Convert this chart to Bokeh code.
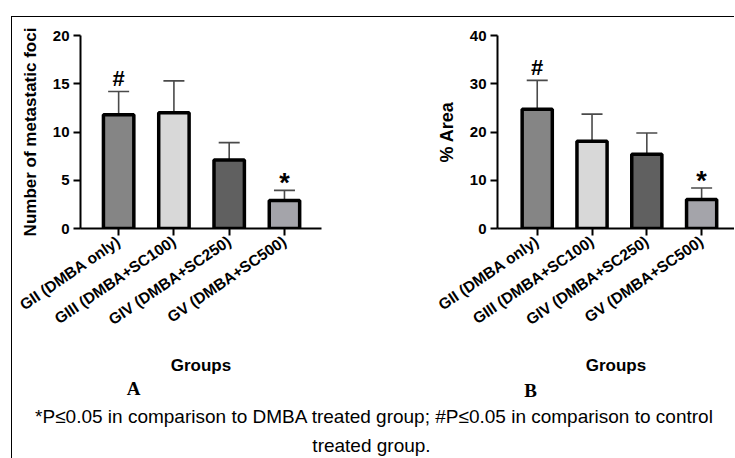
from bokeh.plotting import figure
from bokeh.models import Range1d, FixedTicker, Whisker, ColumnDataSource, Label, TeeHead
from bokeh.layouts import row, column
from bokeh.embed import file_html
from bokeh.resources import INLINE
from bokeh.core.properties import value

groups = ["GII (DMBA only)", "GIII (DMBA+SC100)", "GIV (DMBA+SC250)", "GV (DMBA+SC500)"]
foci_mean = [11.8, 12.0, 7.1, 2.9]
foci_sd = [2.4, 3.3, 1.8, 1.05]
area_mean = [24.7, 18.1, 15.4, 6.0]
area_sd = [6.0, 5.6, 4.4, 2.4]
sig_marks = ["#", "", "", "*"]
bar_colors = ["#858585", "#d8d8d8", "#606060", "#a4a4aa"]
foci_ticks = [0, 5, 10, 15, 20]
area_ticks = [0, 10, 20, 30, 40]
panel_letters = ["A", "B"]
footnote = ["*P\u22640.05 in comparison to DMBA treated group; #P\u22640.05 in comparison to control",
            "treated group."]

FONT = "Liberation Sans"


def panel(means, sds, ticks, ylabel, ylabel_size, w, h, mbl, mbr, mbt, mbb, xr):
    xs = list(range(len(groups)))
    src = ColumnDataSource(dict(x=xs, top=means, lower=means,
                                upper=[m + s for m, s in zip(means, sds)],
                                color=bar_colors, mark=sig_marks))
    p = figure(width=w, height=h, output_backend="svg", toolbar_location=None,
               x_range=Range1d(*xr), y_range=Range1d(ticks[0], ticks[-1]),
               min_border_left=mbl, min_border_right=mbr, min_border_top=mbt, min_border_bottom=mbb)
    p.outline_line_color = None
    p.grid.visible = False
    p.background_fill_color = "white"
    p.border_fill_color = "white"

    wh = Whisker(base="x", lower="lower", upper="upper", source=src, line_color="#4a4a4a",
                 line_width=1.6, lower_head=None,
                 upper_head=TeeHead(size=21, line_color="#4a4a4a", line_width=1.6))
    p.add_layout(wh)
    p.vbar(x="x", top="top", bottom=0, width=0.55, source=src, fill_color="color",
           line_color="black", line_width=3.5)

    hs = ColumnDataSource(dict(x=[x for x, m in zip(xs, sig_marks) if m == "#"],
                               y=[u for u, m in zip(src.data["upper"], sig_marks) if m == "#"],
                               t=["#" for m in sig_marks if m == "#"]))
    p.text(x="x", y="y", text="t", source=hs, text_align="center", text_baseline="middle",
           y_offset=-13, text_font=value(FONT), text_font_size="22px", text_font_style="bold",
           text_color="black")
    ss = ColumnDataSource(dict(x=[x for x, m in zip(xs, sig_marks) if m == "*"],
                               y=[u for u, m in zip(src.data["upper"], sig_marks) if m == "*"],
                               t=["*" for m in sig_marks if m == "*"]))
    p.text(x="x", y="y", text="t", source=ss, text_align="center", text_baseline="middle",
           y_offset=-7, text_font=value(FONT), text_font_size="27px", text_font_style="bold",
           text_color="black")

    for ax in (p.xaxis[0], p.yaxis[0]):
        ax.axis_line_width = 2
        ax.axis_line_color = "black"
        ax.major_tick_line_width = 2
        ax.major_tick_line_color = "black"
        ax.major_tick_out = 7
        ax.major_tick_in = 0
        ax.minor_tick_line_color = None
        ax.major_label_text_font = FONT
        ax.major_label_text_font_style = "bold"
        ax.major_label_text_color = "black"
        ax.axis_label_text_font = FONT
        ax.axis_label_text_font_style = "bold"
        ax.axis_label_text_color = "black"

    p.yaxis.ticker = FixedTicker(ticks=ticks)
    p.yaxis.major_label_text_font_size = "15px"
    p.yaxis.major_label_standoff = 4
    p.yaxis.axis_label = ylabel
    p.yaxis.axis_label_text_font_size = ylabel_size
    p.yaxis.axis_label_standoff = 10

    p.xaxis.ticker = FixedTicker(ticks=xs)
    p.xaxis.major_label_overrides = {i: g for i, g in enumerate(groups)}
    p.xaxis.major_label_orientation = 0.6
    p.xaxis.major_label_text_font_size = "15.5px"
    p.xaxis.major_label_standoff = 4
    p.xaxis.axis_label = "Groups"
    p.xaxis.axis_label_text_font_size = "17px"
    p.xaxis.axis_label_standoff = 18
    return p


pA = panel(foci_mean, foci_sd, foci_ticks, "Number of metastatic foci", "17px",
           358, 361, 68, 49, 18, 148, (-0.69, 3.67))
pB = panel(area_mean, area_sd, area_ticks, "% Area", "18px",
           364, 361, 127, 0, 17, 150, (-0.725, 3.6))

foot = figure(width=722, height=80, output_backend="svg", toolbar_location=None,
              x_range=Range1d(0, 722), y_range=Range1d(0, 80),
              x_axis_type=None, y_axis_type=None, min_border=0)
foot.outline_line_color = None
foot.grid.visible = False
for letter, lx, ly in zip(panel_letters, [121, 518], [70, 68]):
    foot.add_layout(Label(x=lx, y=ly, text=letter, text_font="Liberation Serif",
                          text_font_style="bold", text_font_size="19px", text_align="center",
                          text_baseline="middle", text_color="black"))
foot.add_layout(Label(x=362, y=42, text=footnote[0], text_font="Liberation Sans",
                      text_font_size="19px", text_align="center", text_baseline="middle",
                      text_color="black"))
foot.add_layout(Label(x=359, y=13, text=footnote[1], text_font="Liberation Sans",
                      text_font_size="19px", text_align="center", text_baseline="middle",
                      text_color="black"))

layout = column(row(pA, pB), foot, margin=(16, 0, 0, 11),
                styles={"border-left": "1px solid black", "border-top": "1px solid black"})

open("out.html", "w").write(file_html(layout, INLINE))
